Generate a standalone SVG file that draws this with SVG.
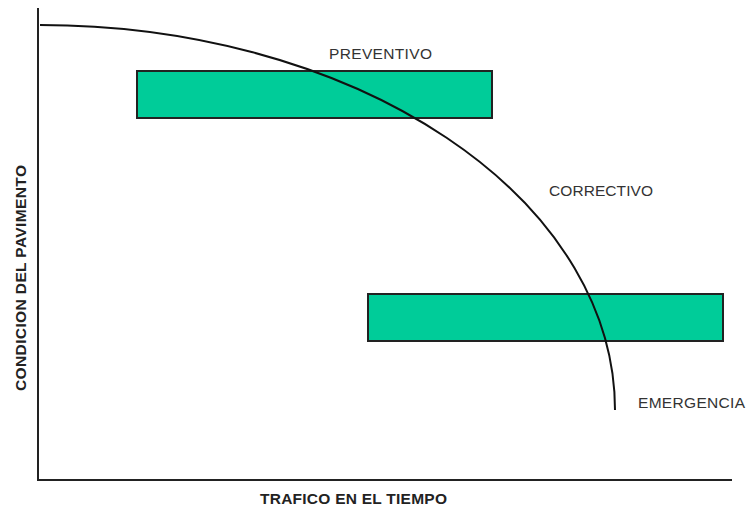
<svg xmlns="http://www.w3.org/2000/svg" width="749" height="510" viewBox="0 0 749 510">
<style>
.lbl{font-family:"Liberation Sans",Arial,sans-serif;font-size:15.5px;fill:#333}
.ax{font-family:"Liberation Sans",Arial,sans-serif;font-size:15.5px;font-weight:bold;fill:#222}
.bar{fill:#00CC99;stroke:#222;stroke-width:2}
</style>
<rect width="749" height="510" fill="#fff"/>
<g id="axes" stroke="#222" stroke-width="2" fill="none">
<path d="M38,8 V480 H732"/>
</g>
<g id="bar-preventivo"><rect class="bar" x="137" y="71" width="355" height="47"/></g>
<g id="bar-emergencia"><rect class="bar" x="368" y="294" width="355" height="47"/></g>
<g id="connectors">
<path d="M40,25 A575,385 0 0 1 615,410" fill="none" stroke="#111" stroke-width="2"/>
</g>
<g id="label-preventivo"><text class="lbl" x="329" y="59" textLength="103">PREVENTIVO</text></g>
<g id="label-correctivo"><text class="lbl" x="549" y="196" textLength="104">CORRECTIVO</text></g>
<g id="label-emergencia"><text class="lbl" x="638" y="408" textLength="107">EMERGENCIA</text></g>
<g id="label-x"><text class="ax" x="260" y="504" textLength="187">TRAFICO EN EL TIEMPO</text></g>
<g id="label-y"><text class="ax" transform="translate(26,391) rotate(-90)" x="0" y="0" textLength="226">CONDICION DEL PAVIMENTO</text></g>
</svg>
